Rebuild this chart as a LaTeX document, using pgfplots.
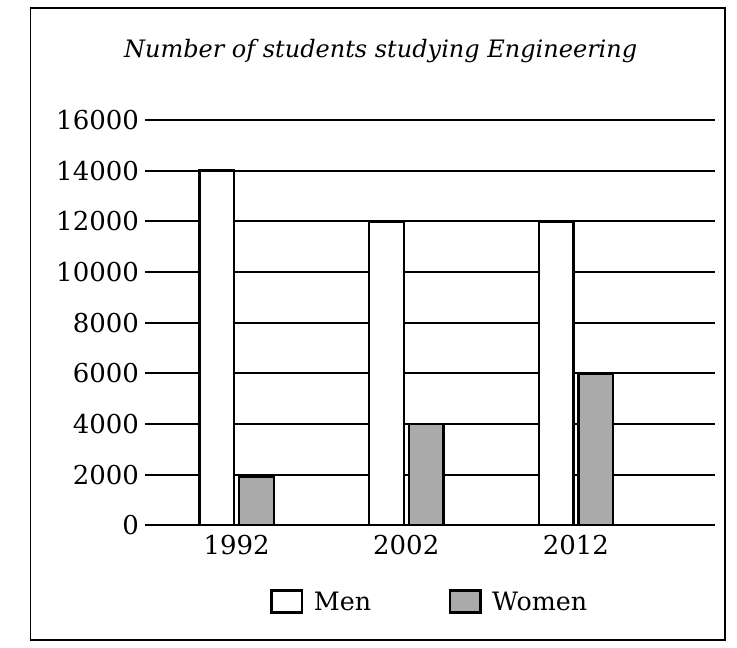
\documentclass[border=0pt]{standalone}
\usepackage{pgfplots}
\pgfplotsset{compat=1.18}
\usepackage{fontspec}
\setmainfont{DejaVu Serif}
\definecolor{womengray}{RGB}{170,170,170}

\begin{document}
\begin{tikzpicture}
\begin{axis}[
    name=ax,
    scale only axis,
    width=427.5pt,
    height=304pt,
    ybar=3.75pt,
    bar width=26pt,
    xmin=-0.54, xmax=2.82,
    ymin=0, ymax=16000,
    xtick={0,1,2},
    xticklabels={1992,2002,2012},
    ytick={0,2000,...,16000},
    major tick length=0pt,
    axis line style={draw=none},
    ymajorgrids,
    grid style={black, line width=1.4pt},
    tick label style={font=\fontsize{19.5}{22}\selectfont},
    yticklabel style={xshift=-1pt},
    xticklabel style={yshift=-4pt},
    scaled y ticks=false,
    /pgf/number format/assume math mode=true,
    yticklabel={\pgfmathprintnumber[1000 sep={}]{\tick}},
    legend style={at={(0.5,-0.15)}, anchor=north, draw=none, fill=none,
        legend columns=-1, font=\fontsize{19}{22}\selectfont,
        /tikz/every odd column/.append style={column sep=6pt},
        /tikz/every even column/.append style={column sep=56pt}},
    legend image code/.code={\draw[#1, line width=1.8pt] (0pt,-8pt) rectangle (23pt,8.5pt);},
]
\addplot[draw=black, fill=white, line width=1.8pt] coordinates {(0,14000) (1,12000) (2,12000)};
\addplot[draw=black, fill=womengray, line width=1.8pt] coordinates {(0,1900) (1,4000) (2,6000)};
\legend{Men,Women}
\end{axis}
\node[font=\fontsize{18}{20}\selectfont\itshape] at ([shift={(-37pt,52pt)}]ax.north) {Number of students studying Engineering};
\draw[line width=1pt] ([shift={(-86pt,-86pt)}]ax.south west) rectangle ([shift={(7.5pt,84pt)}]ax.north east);
\path ([shift={(-108.75pt,-91.5pt)}]ax.south west) rectangle ([shift={(16.5pt,90pt)}]ax.north east);
\end{tikzpicture}
\end{document}
